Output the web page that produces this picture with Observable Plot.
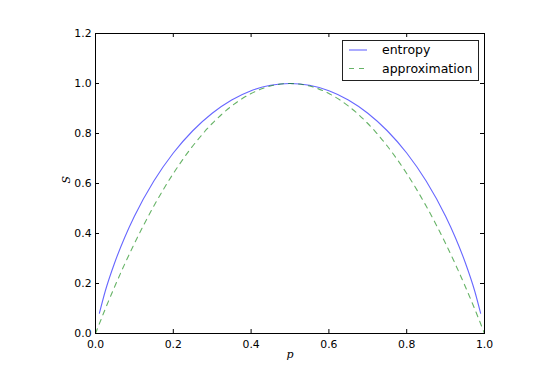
<!DOCTYPE html>
<html>
<head>
<meta charset="utf-8">
<script src="https://cdn.jsdelivr.net/npm/d3@7"></script>
<script src="https://cdn.jsdelivr.net/npm/@observablehq/plot@0.6"></script>
<style>
  html, body { margin: 0; padding: 0; background: white; }
</style>
</head>
<body>
<div id="chart"></div>
<script>
// Values
const entropyP = [0.01, 0.025, 0.05, 0.075, 0.1, 0.15, 0.2, 0.25, 0.3, 0.35, 0.4, 0.45, 0.5, 0.55, 0.6, 0.65, 0.7, 0.75, 0.8, 0.85, 0.9, 0.925, 0.95, 0.975, 0.99];
const entropyS = [0.081, 0.169, 0.286, 0.384, 0.469, 0.610, 0.722, 0.811, 0.881, 0.934, 0.971, 0.993, 1.0, 0.993, 0.971, 0.934, 0.881, 0.811, 0.722, 0.610, 0.469, 0.384, 0.286, 0.169, 0.081];
const approxP = [0.0, 0.025, 0.05, 0.075, 0.1, 0.15, 0.2, 0.25, 0.3, 0.35, 0.4, 0.45, 0.5, 0.55, 0.6, 0.65, 0.7, 0.75, 0.8, 0.85, 0.9, 0.925, 0.95, 0.975, 1.0];
const approxS = [0.0, 0.0975, 0.19, 0.2775, 0.36, 0.51, 0.64, 0.75, 0.84, 0.91, 0.96, 0.99, 1.0, 0.99, 0.96, 0.91, 0.84, 0.75, 0.64, 0.51, 0.36, 0.2775, 0.19, 0.0975, 0.0];
const xTicks = [0.0, 0.2, 0.4, 0.6, 0.8, 1.0];
const yTicks = [0.0, 0.2, 0.4, 0.6, 0.8, 1.0, 1.2];
const seriesNames = ["entropy", "approximation"];

const entropyData = entropyP.map((p, i) => ({p, S: entropyS[i]}));
const approxData = approxP.map((p, i) => ({p, S: approxS[i]}));

const W = 558, H = 374;
const mL = 95, mR = 74, mT = 33, mB = 41;
const pw = W - mL - mR, ph = H - mT - mB;

const blue = "#0000ff", green = "#008000";

const chart = Plot.plot({
  width: W, height: H,
  marginLeft: mL, marginRight: mR, marginTop: mT, marginBottom: mB,
  x: {domain: [0, 1]},
  y: {domain: [0, 1.2]},
  style: {fontFamily: "DejaVu Sans", fontSize: "10.8px", background: "white", color: "black"},
  marks: [
    Plot.line(entropyData, {x: "p", y: "S", stroke: blue, strokeOpacity: 0.6, strokeWidth: 1.1, curve: "monotone-x"}),
    Plot.line(approxData, {x: "p", y: "S", stroke: green, strokeOpacity: 0.6, strokeWidth: 1.1, strokeDasharray: "5,5", curve: "monotone-x"}),
    Plot.frame({stroke: "black", strokeWidth: 1}),
    Plot.tickX(xTicks, {x: d => d, insetTop: ph - 4, stroke: "black"}),
    Plot.tickX(xTicks, {x: d => d, insetBottom: ph - 4, stroke: "black"}),
    Plot.tickY(yTicks, {y: d => d, insetRight: pw - 4, stroke: "black"}),
    Plot.tickY(yTicks, {y: d => d, insetLeft: pw - 4, stroke: "black"}),
    Plot.axisX(xTicks, {tickSize: 0, tickPadding: 7, label: null, tickFormat: d => d.toFixed(1), fill: "black"}),
    Plot.axisY(yTicks, {tickSize: 0, tickPadding: 4, label: null, tickFormat: d => d.toFixed(1), fill: "black"}),
    Plot.text(["p"], {frameAnchor: "bottom", dy: 24, text: d => d, fontFamily: "DejaVu Serif", fontStyle: "italic", fontSize: 11, fill: "black"}),
    Plot.text(["S"], {frameAnchor: "left", dx: -29, rotate: -90, text: d => d, fontFamily: "DejaVu Serif", fontStyle: "italic", fontSize: 11, fill: "black"})
  ]
});

document.getElementById("chart").appendChild(chart);

// Legend
const svg = d3.select(chart);
const lg = svg.append("g");
lg.append("rect").attr("x", 342.5).attr("y", 40.5).attr("width", 136).attr("height", 40)
  .attr("fill", "white").attr("stroke", "#222").attr("stroke-width", 1);
const items = [
  {name: seriesNames[0], color: blue, dash: "none", y: 50},
  {name: seriesNames[1], color: green, dash: "5,5", y: 68.5}
];
items.forEach(it => {
  lg.append("line").attr("x1", 349).attr("x2", 367).attr("y1", it.y).attr("y2", it.y)
    .attr("stroke", it.color).attr("stroke-opacity", 0.6).attr("stroke-width", 1.1)
    .attr("stroke-dasharray", it.dash);
  lg.append("text").attr("x", 382).attr("y", it.y).attr("dy", "0.35em")
    .attr("text-anchor", "start")
    .attr("font-family", "DejaVu Sans").attr("font-size", "12.5px").attr("fill", "black")
    .text(it.name);
});
</script>
</body>
</html>
